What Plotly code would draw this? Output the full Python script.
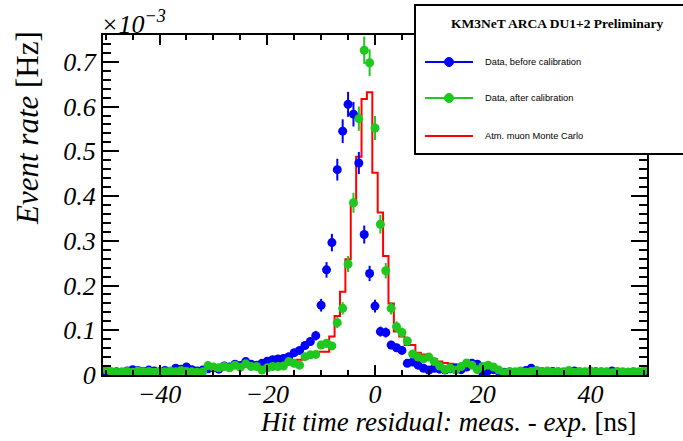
import plotly.graph_objects as go

# ---------------- data (rate in units of 1e-3 Hz) ----------------
bin_centers = list(range(-50, 51))

rate_before = [
    0.008, 0.006, 0.007, 0.005, 0.009, 0.012, 0.010, 0.008, 0.011, 0.009,   # -50..-41
    0.006, 0.010, 0.008, 0.015, 0.013, 0.018, 0.012, 0.009, 0.011, 0.014,   # -40..-31
    0.016, 0.013, 0.020, 0.018, 0.024, 0.021, 0.030, 0.024, 0.022, 0.026,   # -30..-21
    0.031, 0.034, 0.036, 0.037, 0.041, 0.050, 0.055, 0.066, 0.075, 0.088,   # -20..-11
    0.156, 0.235, 0.296, 0.459, 0.545, 0.605, 0.583, 0.474, 0.314, 0.227,   # -10..-1
    0.154,                                                                   # 0
    0.097, 0.095, 0.067, 0.061, 0.055, 0.026, 0.029, 0.022, 0.015, 0.011,   # 1..10
    0.015, 0.013, 0.011, 0.014, 0.016, 0.012, 0.018, 0.026, 0.024, 0.005,   # 11..20
    0.010, 0.012, 0.008, 0.006, 0.004, 0.002, 0.006, 0.010, 0.015, 0.009,   # 21..30
    0.007, 0.005, 0.008, 0.006, 0.004, 0.007, 0.009, 0.005, 0.006, 0.008,   # 31..40
    0.007, 0.004, 0.006, 0.009, 0.005, 0.003, 0.006, 0.004, 0.005, 0.007,   # 41..50
]

rate_after = [
    0.012, 0.008, 0.006, 0.007, 0.008, 0.006, 0.009, 0.007, 0.008, 0.006,   # -50..-41
    0.008, 0.007, 0.009, 0.007, 0.010, 0.008, 0.007, 0.006, 0.007, 0.021,   # -40..-31
    0.018, 0.016, 0.019, 0.016, 0.022, 0.017, 0.025, 0.019, 0.019, 0.011,   # -30..-21
    0.016, 0.019, 0.019, 0.020, 0.030, 0.026, 0.022, 0.041, 0.045, 0.046,   # -20..-11
    0.067, 0.071, 0.065, 0.117, 0.149, 0.248, 0.385, 0.573, 0.726, 0.698,   # -10..-1
    0.552,                                                                   # 0
    0.337, 0.233, 0.149, 0.108, 0.095, 0.076, 0.047, 0.040, 0.036, 0.040,   # 1..10
    0.030, 0.020, 0.012, 0.015, 0.011, 0.019, 0.027, 0.022, 0.012, 0.019,   # 11..20
    0.022, 0.018, 0.011, 0.005, 0.008, 0.007, 0.009, 0.006, 0.008, 0.010,   # 21..30
    0.007, 0.009, 0.006, 0.008, 0.007, 0.010, 0.006, 0.008, 0.007, 0.009,   # 31..40
    0.006, 0.008, 0.007, 0.005, 0.008, 0.007, 0.006, 0.008, 0.007, 0.010,   # 41..50
]

rate_mc = [
    0.006, 0.007, 0.006, 0.007, 0.007, 0.008, 0.007, 0.008, 0.008, 0.009,   # -50..-41
    0.008, 0.009, 0.009, 0.010, 0.010, 0.011, 0.011, 0.012, 0.012, 0.013,   # -40..-31
    0.013, 0.014, 0.015, 0.015, 0.016, 0.017, 0.018, 0.019, 0.020, 0.021,   # -30..-21
    0.022, 0.023, 0.025, 0.027, 0.029, 0.031, 0.034, 0.037, 0.041, 0.046,   # -20..-11
    0.052, 0.052, 0.086, 0.132, 0.186, 0.259, 0.380, 0.488, 0.617, 0.632,   # -10..-1
    0.452,                                                                   # 0
    0.363, 0.266, 0.160, 0.097, 0.086, 0.067, 0.067, 0.050, 0.046, 0.040,   # 1..10
    0.036, 0.030, 0.027, 0.025, 0.022, 0.020, 0.018, 0.017, 0.015, 0.014,   # 11..20
    0.013, 0.012, 0.011, 0.010, 0.010, 0.009, 0.009, 0.008, 0.008, 0.008,   # 21..30
    0.007, 0.007, 0.007, 0.007, 0.007, 0.007, 0.007, 0.006, 0.007, 0.006,   # 31..40
    0.006, 0.007, 0.006, 0.006, 0.007, 0.006, 0.006, 0.006, 0.006, 0.006,   # 41..50
]

x_ticks = [-40, -20, 0, 20, 40]
y_ticks = [0, 0.1, 0.2, 0.3, 0.4, 0.5, 0.6, 0.7]
legend_title = "KM3NeT ARCA DU1+2 Preliminary"
legend_labels = ["Data, before calibration", "Data, after calibration", "Atm. muon Monte Carlo"]

# Poisson-like statistical errors derived from the rates
err_before = [0.036 * v ** 0.5 for v in rate_before]
err_after = [0.036 * v ** 0.5 for v in rate_after]

# histogram edges for the step outline
edges = [c - 0.5 for c in bin_centers] + [bin_centers[-1] + 0.5]
mc_step = rate_mc + [rate_mc[-1]]

# ---------------- layout geometry (pixels) ----------------
W, H = 683, 441
L, R, T, B = 103, 647, 35, 375

def px(xp):
    return (xp - L) / (R - L)

def py(yp):
    return (B - yp) / (B - T)

BLUE = "#0000ff"
GREEN = "#1ec81e"
RED = "#ff0000"
SERIF = "Liberation Serif"
SANS = "Liberation Sans"

fig = go.Figure()

fig.add_trace(go.Scatter(
    x=edges, y=mc_step, mode="lines", line=dict(color=RED, width=2, shape="hv"),
    showlegend=False, hoverinfo="skip"))

fig.add_trace(go.Scatter(
    x=bin_centers, y=rate_before, mode="markers",
    marker=dict(color=BLUE, size=9),
    error_y=dict(type="data", array=err_before, color=BLUE, thickness=2, width=0),
    showlegend=False))

fig.add_trace(go.Scatter(
    x=bin_centers, y=rate_after, mode="markers",
    marker=dict(color=GREEN, size=9),
    error_y=dict(type="data", array=err_after, color=GREEN, thickness=2, width=0),
    showlegend=False))

axis_common = dict(
    showgrid=False, zeroline=False, showline=True, linecolor="black", linewidth=2,
    mirror="allticks", ticks="inside", tickcolor="black", tickwidth=2,
    tickfont=dict(family=SERIF, size=26, color="black", style="italic"),
)

fig.update_xaxes(
    range=[-50.5, 50.5], tickvals=x_ticks, ticklen=10, ticklabelstandoff=-5,
    minor=dict(dtick=5, tick0=0, ticks="inside", ticklen=5, tickwidth=2, tickcolor="black"),
    **axis_common)
fig.update_yaxes(
    range=[0, 0.76], tickvals=y_ticks, ticktext=[("%g" % v) for v in y_ticks], ticklen=16,
    minor=dict(dtick=0.02, tick0=0, ticks="inside", ticklen=8, tickwidth=2, tickcolor="black"),
    **axis_common)

shapes = []
annotations = []

# axis titles
annotations.append(dict(
    xref="paper", yref="paper", x=px(638), y=py(422), xanchor="right", yanchor="middle",
    text="<i>Hit time residual: meas. - exp.</i> [ns]", showarrow=False,
    font=dict(family=SERIF, size=27, color="black")))
annotations.append(dict(
    xref="paper", yref="paper", x=px(27), y=py(128), xanchor="center", yanchor="middle",
    text="<i>Event rate</i> [Hz]", textangle=-90, showarrow=False,
    font=dict(family=SERIF, size=31, color="black")))
annotations.append(dict(
    xref="paper", yref="paper", x=px(99), y=py(41), xanchor="left", yanchor="bottom",
    text="×10<sup>−3</sup>", showarrow=False,
    font=dict(family=SERIF, size=26, color="black", style="italic")))

# legend box
shapes.append(dict(type="rect", xref="paper", yref="paper", layer="above",
                   x0=px(415), x1=px(692), y0=py(154), y1=py(5),
                   line=dict(color="black", width=2), fillcolor="white"))
annotations.append(dict(
    xref="paper", yref="paper", x=px(557), y=py(24), xanchor="center", yanchor="middle",
    text="<b>" + legend_title + "</b>", showarrow=False,
    font=dict(family=SERIF, size=13.5, color="black")))

entry_y = [62, 98, 136]
entry_col = [BLUE, GREEN, RED]
for i, (lab, yy, col) in enumerate(zip(legend_labels, entry_y, entry_col)):
    shapes.append(dict(type="line", xref="paper", yref="paper", layer="above",
                       x0=px(425), x1=px(473), y0=py(yy), y1=py(yy),
                       line=dict(color=col, width=2)))
    if i < 2:
        shapes.append(dict(type="circle", xref="paper", yref="paper", layer="above",
                           x0=px(444.5), x1=px(453.5), y0=py(yy + 4.5), y1=py(yy - 4.5),
                           line=dict(color=col, width=1), fillcolor=col))
    annotations.append(dict(
        xref="paper", yref="paper", x=px(483), y=py(yy), xanchor="left", yanchor="middle",
        text=lab, showarrow=False, font=dict(family=SANS, size=9.3, color="black")))

fig.update_layout(
    width=W, height=H, autosize=False,
    margin=dict(l=L, r=W - R, t=T, b=H - B, pad=0),
    paper_bgcolor="white", plot_bgcolor="white",
    shapes=shapes, annotations=annotations, showlegend=False,
)

fig.write_html("out.html", config={"displayModeBar": False},
               post_script="document.body.style.margin='0px';")
